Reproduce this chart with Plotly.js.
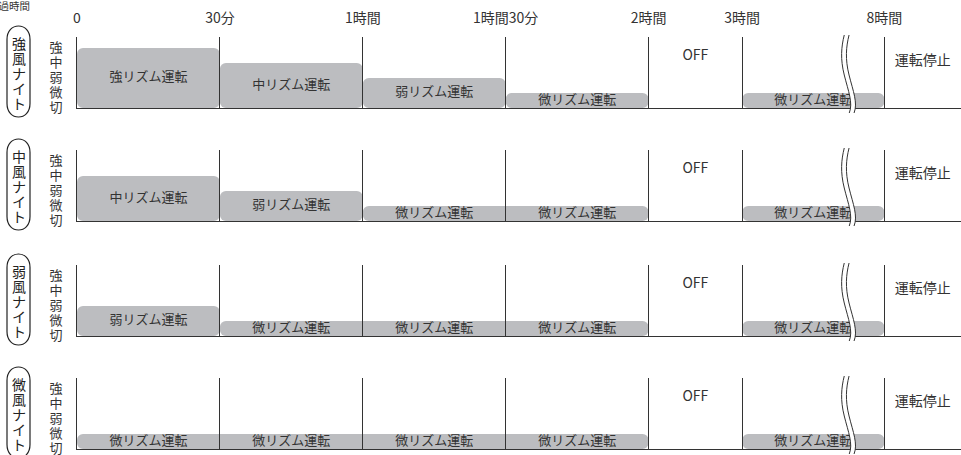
<!DOCTYPE html>
<html><head><meta charset="utf-8">
<script src="https://cdn.plot.ly/plotly-3.0.1.min.js"></script>
<style>html,body{margin:0;padding:0;background:#fff}#chart{width:961px;height:455px}</style>
</head><body><div id="chart"></div>
<script>
// ---------- data ----------
const tickLabels = ['0','30分','1時間','1時間30分','2時間','3時間','8時間'];
const rowNames = ['強風ナイト','中風ナイト','弱風ナイト','微風ナイト'];
const levelNames = ['切','微','弱','中','強']; // index = level value
const levelsRow1 = [4,3,2,1,0,1];
const levelsRow2 = [3,2,1,1,0,1];
const levelsRow3 = [2,1,1,1,0,1];
const levelsRow4 = [1,1,1,1,0,1];
const labelsRow1 = ['強リズム運転','中リズム運転','弱リズム運転','微リズム運転','OFF','微リズム運転'];
const labelsRow2 = ['中リズム運転','弱リズム運転','微リズム運転','微リズム運転','OFF','微リズム運転'];
const labelsRow3 = ['弱リズム運転','微リズム運転','微リズム運転','微リズム運転','OFF','微リズム運転'];
const labelsRow4 = ['微リズム運転','微リズム運転','微リズム運転','微リズム運転','OFF','微リズム運転'];
const stopLabel = '運転停止';
const elapsedLabel = '経過時間';

// ---------- layout geometry ----------
const FONT = '"Noto Sans CJK JP", "Noto Sans", sans-serif';
const W = 961, H = 455, ML = 77, MT = 37, MB = 6;
const plotW = W - ML, plotH = H - MT - MB;
const tickPos = [0, 1, 2, 3, 4, 4.655, 5.65];   // broken time axis positions
const xMax = 6.186;
const yMax = 4.73;
const rowTop = [37, 150, 265, 378];
const rowH = 71;
const py = p => (H - MB - p) / plotH;
const px = p => (p - ML) / plotW;
const BAR = '#bcbdc0', INK = '#333333';

const rows = [
  {levels: levelsRow1, labels: labelsRow1},
  {levels: levelsRow2, labels: labelsRow2},
  {levels: levelsRow3, labels: labelsRow3},
  {levels: levelsRow4, labels: labelsRow4}
];

const data = [];
const layout = {
  width: W, height: H,
  margin: {l: ML, r: 0, t: MT, b: MB},
  paper_bgcolor: '#fff', plot_bgcolor: 'rgba(0,0,0,0)',
  showlegend: false,
  font: {family: FONT, color: INK},
  shapes: [], annotations: []
};

rows.forEach((row, r) => {
  const s = r === 0 ? '' : String(r + 1);
  // merge consecutive equal levels into one bar
  const runs = [];
  row.levels.forEach((lv, i) => {
    if (lv <= 0) return;
    const last = runs[runs.length - 1];
    if (last && last.lv === lv && last.end === i) { last.end = i + 1; }
    else runs.push({lv: lv, start: i, end: i + 1});
  });
  data.push({
    type: 'bar',
    x: runs.map(u => (tickPos[u.start] + tickPos[u.end]) / 2),
    width: runs.map(u => tickPos[u.end] - tickPos[u.start]),
    y: runs.map(u => u.lv),
    base: 0,
    marker: {color: BAR, line: {width: 0}, cornerradius: 6},
    textposition: 'none', hoverinfo: 'skip',
    xaxis: 'x' + s, yaxis: 'y' + s
  });
  // labels
  const tx = [], ty = [], tt = [], ts = [];
  row.levels.forEach((lv, i) => {
    const mid = (tickPos[i] + tickPos[i + 1]) / 2;
    tx.push(mid);
    if (lv > 0) { ty.push(lv / 2); ts.push(13); }
    else { ty.push(3.45); ts.push(14); }
    tt.push(row.labels[i]);
  });
  tx.push((tickPos[tickPos.length - 1] + xMax) / 2); ty.push(3.07); tt.push(stopLabel); ts.push(14);
  data.push({
    type: 'scatter', mode: 'text', x: tx, y: ty, text: tt,
    textfont: {family: FONT, size: ts, color: INK},
    textposition: 'middle center', cliponaxis: false, hoverinfo: 'skip',
    xaxis: 'x' + s, yaxis: 'y' + s
  });

  const top = rowTop[r], bot = top + rowH;
  layout['xaxis' + s] = {
    domain: [0, 1], range: [0, xMax], anchor: 'y' + s,
    tickmode: 'array', tickvals: tickPos, showticklabels: false,
    ticks: 'inside', ticklen: rowH, tickwidth: 1, tickcolor: INK,
    showline: true, linecolor: INK, linewidth: 1.2,
    showgrid: false, zeroline: false, layer: 'above traces', fixedrange: true
  };
  layout['yaxis' + s] = {
    domain: [py(bot), py(top)], range: [0, yMax], anchor: 'x' + s,
    tickmode: 'array', tickvals: [0, 1, 2, 3, 4], ticktext: levelNames,
    ticks: '', ticklabelstandoff: 11, ticklabeloverflow: 'allow', ticklabelshift: -1,
    tickfont: {family: FONT, size: 13, color: INK},
    showline: true, linecolor: INK, linewidth: 1,
    showgrid: false, zeroline: false, layer: 'above traces', fixedrange: true
  };

  // row title in rounded frame
  const cy = (top + bot) / 2;
  layout.shapes.push({
    type: 'path', xref: 'paper', yref: 'paper',
    xsizemode: 'pixel', ysizemode: 'pixel',
    xanchor: px(18.5), yanchor: py(cy - 1),
    path: 'M -11.5,-32 L -11.5,32 C -11.5,41 -6,45.5 0,45.5 C 6,45.5 11.5,41 11.5,32 L 11.5,-32 C 11.5,-41 6,-45.5 0,-45.5 C -6,-45.5 -11.5,-41 -11.5,-32 Z',
    line: {color: '#222', width: 1.2}, fillcolor: 'rgba(0,0,0,0)'
  });
  rowNames[r].split('').forEach((ch, k) => {
    layout.annotations.push({
      xref: 'paper', yref: 'paper', x: px(18.5), y: py(cy + (k - 2) * 15),
      text: ch, showarrow: false, xanchor: 'center', yanchor: 'middle',
      font: {family: FONT, size: 14, color: '#222'}
    });
  });

  // axis break mark
  const bx = 5.39;
  const left = 'M -3,2 C -6,-10 -7,-22 -3,-38 C 1,-54 6,-66 2,-76';
  const right = 'M 1.8,2 C -1.2,-10 -2.2,-22 1.8,-38 C 5.8,-54 10.8,-66 6.8,-76';
  const band = left + ' L 6.8,-76 C 10.8,-66 5.8,-54 1.8,-38 C -2.2,-22 -1.2,-10 1.8,2 Z';
  const common = {type: 'path', xref: 'x' + s, yref: 'paper', xsizemode: 'pixel', ysizemode: 'pixel',
                  xanchor: bx, yanchor: py(top)};
  layout.shapes.push(Object.assign({}, common, {path: band, fillcolor: '#fff', line: {width: 0}}));
  layout.shapes.push(Object.assign({}, common, {path: left, line: {color: INK, width: 1}}));
  layout.shapes.push(Object.assign({}, common, {path: right, line: {color: INK, width: 1}}));
});

// top time labels on an overlaying axis (empty trace only registers the axis)
data.push({type: 'scatter', mode: 'none', x: [], y: [], xaxis: 'x5', yaxis: 'y', hoverinfo: 'skip'});
layout.xaxis5 = {
  overlaying: 'x', anchor: 'y', side: 'top', range: [0, xMax],
  tickmode: 'array', tickvals: tickPos, ticktext: tickLabels,
  ticks: '', ticklabelstandoff: 10, ticklabeloverflow: 'allow',
  showline: false, showgrid: false, zeroline: false,
  tickfont: {family: FONT, size: 14, color: INK}, fixedrange: true
};

layout.annotations.push({
  xref: 'paper', yref: 'paper', x: px(32), y: py(6), xanchor: 'right', yanchor: 'middle',
  text: elapsedLabel, showarrow: false, font: {family: FONT, size: 10.5, color: INK}
});

Plotly.newPlot('chart', data, layout, {displayModeBar: false, staticPlot: true});
</script>
</body></html>
